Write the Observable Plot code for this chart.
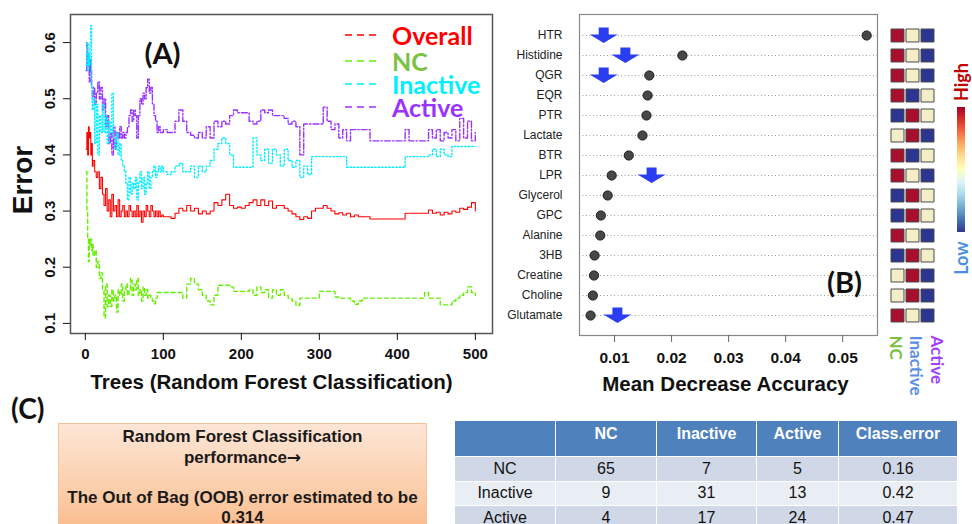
<!DOCTYPE html>
<html><head><meta charset="utf-8">
<script src="https://cdn.jsdelivr.net/npm/d3@7"></script>
<script src="https://cdn.jsdelivr.net/npm/@observablehq/plot@0.6"></script>
<style>
body{margin:0;background:#fff;}
#fig{position:relative;width:972px;height:524px;overflow:hidden;font-family:"Liberation Sans",Arial,sans-serif;background:#fff;}
#fig svg{position:absolute;}
.abs{position:absolute;white-space:nowrap;}
.cal{font-family:Lato,"Open Sans",sans-serif;font-weight:bold;}
table.cm{position:absolute;left:454px;top:420px;border-collapse:collapse;font-family:"Liberation Sans",Arial,sans-serif;font-size:16px;table-layout:fixed;}
table.cm td, table.cm th{border:1px solid #fff;text-align:center;padding:0;}
table.cm th{background:#4f81bd;color:#fff;font-weight:bold;height:36px;vertical-align:top;padding-top:4px;box-sizing:border-box;}
table.cm tr.r0 td, table.cm tr.r2 td{background:#d0d8e8;}
table.cm tr.r1 td{background:#e9edf4;}
table.cm td{height:23.5px;color:#111;line-height:18px;}
</style></head><body><div id="fig"></div>
<script>
// ---------- Panel A data: OOB error vs number of trees ----------
const trees = [1,2,3,4,5,6,7,8,9,10,
12,14,16,18,20,22,24,26,28,30,32,34,36,38,40,42,44,46,48,50,52,54,56,58,60,62,64,66,68,70,72,74,76,78,80,82,84,86,88,90,92,94,96,98,100,
105,110,115,120,125,130,135,140,145,150,155,160,165,170,175,180,185,190,195,200,
205,210,215,220,225,230,235,240,245,250,255,260,265,270,275,280,285,290,295,300,
305,310,315,320,325,330,335,340,345,350,355,360,365,370,375,380,385,390,395,400,
405,410,415,420,425,430,435,440,445,450,455,460,465,470,475,480,485,490,495,500];

const errOverall = [0.41,0.44,0.40,0.45,0.43,0.44,0.40,0.42,0.38,0.39,
0.37,0.36,0.37,0.34,0.36,0.33,0.31,0.34,0.30,0.32,
0.29,0.33,0.30,0.31,0.29,0.32,0.29,0.30,0.31,0.29,
0.30,0.29,0.31,0.30,0.29,0.30,0.29,0.31,0.29,0.30,
0.28,0.30,0.29,0.31,0.30,0.29,0.31,0.30,0.29,0.30,
0.29,0.30,0.29,0.293,0.29,
0.29,0.287,0.296,0.305,0.30,0.31,0.30,0.305,0.295,0.30,
0.295,0.30,0.315,0.31,0.32,0.33,0.31,0.305,0.307,0.305,
0.31,0.315,0.32,0.31,0.32,0.31,0.318,0.305,0.31,0.31,
0.305,0.30,0.295,0.29,0.285,0.29,0.287,0.30,0.305,0.305,
0.31,0.305,0.30,0.295,0.297,0.293,0.296,0.29,0.293,0.29,
0.29,0.29,0.286,0.286,0.286,0.286,0.286,0.286,0.286,0.286,
0.286,0.296,0.296,0.296,0.296,0.296,0.296,0.302,0.296,0.298,
0.293,0.298,0.295,0.30,0.298,0.305,0.303,0.307,0.315,0.30];

const errNC = [0.37,0.30,0.25,0.21,0.25,0.24,0.25,0.23,0.24,0.22,
0.23,0.20,0.21,0.18,0.19,0.16,0.11,0.17,0.13,0.15,
0.13,0.16,0.14,0.15,0.12,0.16,0.15,0.17,0.14,0.16,
0.17,0.15,0.16,0.18,0.15,0.17,0.16,0.18,0.15,0.16,
0.14,0.165,0.15,0.16,0.145,0.15,0.145,0.14,0.135,0.145,
0.155,0.155,0.155,0.155,0.155,
0.155,0.155,0.155,0.155,0.145,0.17,0.18,0.17,0.16,0.15,
0.14,0.133,0.15,0.168,0.168,0.168,0.165,0.157,0.157,0.157,
0.157,0.16,0.15,0.165,0.155,0.16,0.145,0.16,0.15,0.16,
0.15,0.145,0.14,0.132,0.145,0.145,0.145,0.145,0.145,0.157,
0.157,0.157,0.157,0.147,0.145,0.145,0.145,0.14,0.134,0.14,
0.145,0.145,0.145,0.145,0.145,0.145,0.145,0.145,0.145,0.145,
0.145,0.145,0.145,0.145,0.145,0.145,0.155,0.145,0.145,0.145,
0.133,0.133,0.133,0.14,0.145,0.15,0.155,0.165,0.155,0.15];

const errInactive = [0.56,0.60,0.55,0.58,0.56,0.60,0.63,0.52,0.48,0.50,
0.42,0.49,0.40,0.47,0.44,0.49,0.44,0.47,0.42,0.46,
0.44,0.51,0.43,0.41,0.44,0.40,0.42,0.39,0.38,0.37,
0.35,0.32,0.36,0.33,0.35,0.34,0.36,0.32,0.35,0.37,
0.34,0.36,0.33,0.35,0.37,0.34,0.36,0.37,0.38,0.36,
0.37,0.38,0.37,0.38,0.37,
0.365,0.37,0.38,0.385,0.37,0.37,0.38,0.36,0.38,0.37,
0.38,0.39,0.41,0.42,0.43,0.42,0.40,0.378,0.378,0.378,
0.378,0.378,0.43,0.40,0.39,0.41,0.385,0.41,0.40,0.38,
0.41,0.39,0.378,0.39,0.36,0.38,0.365,0.397,0.397,0.397,
0.397,0.397,0.397,0.397,0.397,0.397,0.378,0.378,0.378,0.378,
0.378,0.378,0.378,0.378,0.378,0.378,0.378,0.378,0.378,0.378,
0.378,0.397,0.397,0.397,0.397,0.397,0.397,0.40,0.41,0.397,
0.41,0.40,0.397,0.415,0.415,0.415,0.415,0.415,0.415,0.415];

const errActive = [0.55,0.60,0.56,0.58,0.53,0.57,0.55,0.52,0.50,0.52,
0.49,0.51,0.53,0.50,0.52,0.48,0.50,0.45,0.47,0.42,
0.44,0.40,0.45,0.41,0.44,0.43,0.45,0.43,0.44,0.43,
0.44,0.45,0.47,0.48,0.46,0.48,0.47,0.43,0.47,0.50,
0.49,0.51,0.50,0.52,0.535,0.51,0.52,0.49,0.47,0.46,
0.44,0.45,0.44,0.44,0.445,
0.44,0.44,0.46,0.48,0.46,0.44,0.435,0.43,0.44,0.43,
0.45,0.43,0.46,0.45,0.46,0.455,0.47,0.48,0.475,0.475,
0.475,0.46,0.455,0.46,0.48,0.475,0.48,0.47,0.47,0.47,
0.465,0.455,0.46,0.45,0.40,0.455,0.455,0.455,0.455,0.455,
0.485,0.46,0.445,0.455,0.43,0.445,0.425,0.445,0.445,0.445,
0.445,0.445,0.425,0.425,0.425,0.425,0.425,0.425,0.425,0.425,
0.425,0.445,0.425,0.425,0.425,0.425,0.425,0.445,0.43,0.445,
0.425,0.44,0.43,0.445,0.425,0.465,0.43,0.46,0.425,0.44];

const seriesNames = ["Overall","NC","Inactive","Active"];
const seriesColors = ["#ff0000","#66ee00","#00eeff","#9933ff"];
const legendTextColors = ["#ff0000","#7cc242","#00f0ff","#9933ff"];
const xTicksA = [0,100,200,300,400,500];
const yTicksA = [0.1,0.2,0.3,0.4,0.5,0.6];

// ---------- Panel B data: variable importance ----------
const metabolites = ["HTR","Histidine","QGR","EQR","PTR","Lactate","BTR","LPR","Glycerol","GPC","Alanine","3HB","Creatine","Choline","Glutamate"];
const meanDecreaseAcc = [0.0542,0.0219,0.0161,0.0158,0.0156,0.0149,0.0125,0.0095,0.0088,0.0076,0.0075,0.0065,0.0064,0.0062,0.0058];
const arrowMetabs = ["HTR","Histidine","QGR","LPR","Glutamate"];
const arrowAt = [0.0081,0.0119,0.0081,0.0165,0.0105];
const xTicksB = [0.01,0.02,0.03,0.04,0.05];

// heatmap levels (1 = high, 0.5 = mid, 0 = low)
const groups = ["NC","Inactive","Active"];
const groupColors = ["#7ac143","#5b8ee6","#a040ff"];
const heatNC       = [1,1,1,1,0,0.5,1,1,0,0,1,0,0.5,0.5,1];
const heatInactive = [0.5,0.5,0.5,0,1,1,0,0.5,1,1,0.5,1,1,1,0.5];
const heatActive   = [0,0,0,0.5,0.5,0,0.5,0,0.5,0.5,0,0.5,0,0,0];

// ---------- Panel C data: confusion matrix ----------
const tableHeader = ["","NC","Inactive","Active","Class.error"];
const tableRowNames = ["NC","Inactive","Active"];
const confNC = [65,9,4];
const confInactive = [7,31,17];
const confActive = [5,13,24];
const classError = ["0.16","0.42","0.47"];
const oobError = "0.314";

const fig = document.getElementById("fig");
const ARIAL = "Liberation Sans, Arial, sans-serif";
const LATO = "Lato, Open Sans, sans-serif";

// ---------- Panel A ----------
const errs = [errOverall, errNC, errInactive, errActive];
const dashes = [null, "4,3", "1.5,2", "6,2,1.5,2"];
const rowsA = [];
seriesNames.forEach((s, k) => trees.forEach((t, i) => rowsA.push({tree: t, err: errs[k][i], series: s})));

const plotA = Plot.plot({
  width: 500, height: 400,
  marginLeft: 70, marginRight: 8, marginTop: 14, marginBottom: 67,
  x: {domain: [-19, 522]},
  y: {domain: [0.082, 0.65]},
  style: {fontFamily: ARIAL, color: "#111", background: "transparent", overflow: "visible"},
  marks: [
    ...seriesNames.map((s, k) => Plot.line(rowsA.filter(d => d.series === s), {
      x: "tree", y: "err", stroke: seriesColors[k], strokeWidth: k === 0 ? 1.1 : 1.4,
      strokeDasharray: dashes[k], curve: "step-after"
    })).reverse(),
    Plot.frame({stroke: "#555", strokeWidth: 1.5}),
    Plot.axisX({ticks: xTicksA, tickSize: 7, tickPadding: 8, fontSize: 15, fontWeight: "bold", tickFormat: d => String(d), label: null}),
    Plot.axisY({ticks: yTicksA, tickSize: 7, tickFormat: () => "", label: null}),
    Plot.text(yTicksA, {y: d => d, text: d => d.toFixed(1), frameAnchor: "left", dx: -20, rotate: -90, textAnchor: "middle", fontSize: 15, fontWeight: "bold"}),
    Plot.text(["Trees (Random Forest Classification)"], {text: d => d, frameAnchor: "bottom", dx: -10, dy: 55, fontSize: 20.5, fontWeight: "bold"}),
    Plot.text(["Error"], {text: d => d, frameAnchor: "left", dx: -47, dy: 6, rotate: -90, textAnchor: "middle", fontSize: 28, fontWeight: "bold"}),
    Plot.text(["(A)"], {text: d => d, frameAnchor: "top-left", dx: 92, dy: 29, textAnchor: "middle", fontSize: 29, fontWeight: "bold", fontFamily: LATO})
  ]
});
plotA.style.left = "0px"; plotA.style.top = "0px";

// ---------- Panel B ----------
const impRows = metabolites.map((m, i) => ({metab: m, mda: meanDecreaseAcc[i]}));
const arrowRows = arrowMetabs.map((m, i) => ({metab: m, x: arrowAt[i]}));
const downArrow = {draw(ctx) {
  ctx.moveTo(-5, -8); ctx.lineTo(5, -8); ctx.lineTo(5, -1); ctx.lineTo(14, -1);
  ctx.lineTo(0, 7.5); ctx.lineTo(-14, -1); ctx.lineTo(-5, -1); ctx.closePath();
}};
const plotB = Plot.plot({
  width: 390, height: 400,
  marginLeft: 89, marginRight: 3, marginTop: 14, marginBottom: 65,
  x: {domain: [0.00386, 0.0561]},
  y: {type: "point", domain: metabolites, padding: 0.94},
  style: {fontFamily: ARIAL, color: "#111", background: "transparent", overflow: "visible"},
  marks: [
    Plot.ruleY(metabolites, {y: d => d, stroke: "#9a9a9a", strokeDasharray: "1,2.5"}),
    Plot.frame({stroke: "#888", strokeWidth: 1.2}),
    Plot.dot(impRows, {x: "mda", y: "metab", r: 4.6, fill: "#474747", stroke: "#1a1a1a", strokeWidth: 1}),
    Plot.dot(arrowRows, {x: "x", y: "metab", symbol: downArrow, r: 5, fill: "#2b3df0", stroke: "none"}),
    Plot.axisX({ticks: xTicksB, tickSize: 7, tickPadding: 9, fontSize: 15.5, fontWeight: "bold", tickFormat: d => d.toFixed(2), label: null, stroke: "#666"}),
    Plot.axisY({tickSize: 0, tickPadding: 17, fontSize: 12, label: null, fill: "#222"}),
    Plot.text(["Mean Decrease Accuracy"], {text: d => d, frameAnchor: "bottom", dx: -3, dy: 55, fontSize: 20.5, fontWeight: "bold"}),
    Plot.text(["(B)"], {text: d => d, frameAnchor: "bottom-right", dx: -33, dy: -43, textAnchor: "middle", fontSize: 29, fontWeight: "bold", fontFamily: LATO})
  ]
});
plotB.style.left = "490px"; plotB.style.top = "0px";

// ---------- Heatmap beside B ----------
const heatCols = [heatNC, heatInactive, heatActive];
const heatRows = [];
metabolites.forEach((m, i) => groups.forEach((g, j) => heatRows.push({metab: m, group: g, level: heatCols[j][i]})));
const labelDx = [-8, -3, 3.5];
const plotH = Plot.plot({
  width: 64, height: 420,
  marginLeft: 16.5, marginRight: 16.5, marginTop: 14, marginBottom: 85,
  x: {type: "point", domain: groups, padding: 0, axis: null},
  y: {type: "point", domain: metabolites, padding: 0.94, axis: null},
  color: {type: "linear", domain: [0, 0.5, 1], range: ["#2c3590", "#f4eec8", "#a80f2c"]},
  style: {background: "transparent", overflow: "visible"},
  marks: [
    Plot.dot(heatRows, {x: "group", y: "metab", fill: "level", symbol: "square", r: 7.33, stroke: "#4a4a4a", strokeWidth: 1}),
    ...groups.map((g, j) => Plot.text([g], {x: d => d, text: d => d, frameAnchor: "bottom", dx: labelDx[j], dy: 0,
      rotate: 90, textAnchor: "start", fontSize: 17, fontWeight: "bold", fontFamily: LATO, fill: groupColors[j]}))
  ]
});
plotH.style.left = "880px"; plotH.style.top = "0px";

fig.appendChild(plotB);
fig.appendChild(plotA);
fig.appendChild(plotH);

// ---------- HTML annotations ----------
function addDiv(html, css, cls) {
  const d = document.createElement("div");
  d.className = "abs" + (cls ? " " + cls : "");
  d.innerHTML = html;
  Object.assign(d.style, css);
  fig.appendChild(d);
  return d;
}
// legend of panel A
const legendY = [35, 61, 84, 107];
seriesNames.forEach((s, k) => {
  addDiv(`<svg width="34" height="4" style="position:static;display:block"><line x1="0" y1="2" x2="34" y2="2" stroke="${seriesColors[k]}" stroke-width="1.4" stroke-dasharray="7,5"/></svg>`,
    {left: "345px", top: (legendY[k] - 2) + "px"});
  addDiv(s, {left: "392px", top: legendY[k] + "px", transform: "translateY(-50%)", fontSize: "25px", lineHeight: "0.8", color: legendTextColors[k]}, "cal");
});

// colour bar
addDiv("", {left: "957px", top: "107px", width: "8px", height: "125px",
  background: "linear-gradient(to bottom,#a50026,#d73027,#f46d43,#fdae61,#fee090,#ffffbf,#e0f3f8,#abd9e9,#74add1,#4575b4,#313695)"});
addDiv("High", {left: "961px", top: "82px", transform: "translate(-50%,-50%) rotate(-90deg)", fontSize: "18px", lineHeight: "1", color: "#c00000"}, "cal");
addDiv("Low", {left: "961px", top: "258px", transform: "translate(-50%,-50%) rotate(-90deg)", fontSize: "18px", lineHeight: "1", color: "#4a8fe0"}, "cal");

// panel C
addDiv("(C)", {left: "11px", top: "394px", fontSize: "28px", lineHeight: "1", color: "#111"}, "cal");
addDiv(`Random Forest Classification<br>performance<span style="font-family:'DejaVu Sans';font-weight:bold;font-size:17px">&#8594;</span><br><br>The Out of Bag (OOB) error estimated to be<br>${oobError}`,
  {left: "58px", top: "423px", width: "369px", height: "120px", boxSizing: "border-box", border: "1px solid #f6c29a",
   background: "linear-gradient(to bottom,#fde6d6,#fbc79f 70%,#f9b37e)", textAlign: "center", fontFamily: ARIAL,
   fontWeight: "bold", fontSize: "17px", lineHeight: "20px", paddingTop: "3px", color: "#1a1a1a", whiteSpace: "normal"});

// confusion table
const colW = [101, 101, 100, 82, 119];
let html = "<colgroup>" + colW.map(w => `<col style="width:${w}px">`).join("") + "</colgroup>";
html += "<tr>" + tableHeader.map(h => `<th>${h}</th>`).join("") + "</tr>";
tableRowNames.forEach((r, i) => {
  html += `<tr class="r${i}"><td>${r}</td><td>${confNC[i]}</td><td>${confInactive[i]}</td><td>${confActive[i]}</td><td>${classError[i]}</td></tr>`;
});
const tbl = document.createElement("table");
tbl.className = "cm";
tbl.style.width = colW.reduce((a, b) => a + b, 0) + "px";
tbl.innerHTML = html;
fig.appendChild(tbl);
</script></body></html>
